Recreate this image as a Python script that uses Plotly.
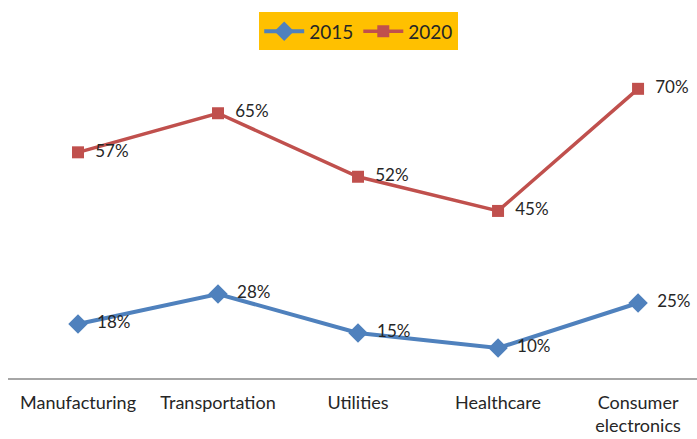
import plotly.graph_objects as go

categories = ["Manufacturing", "Transportation", "Utilities", "Healthcare", "Consumer<br>electronics"]
values_2015 = [18, 28, 15, 10, 25]
values_2020 = [57, 65, 52, 45, 70]

blue = "#4F81BD"
red = "#C0504D"
FONT = "Lato"

fig = go.Figure()
fig.add_trace(go.Scatter(
    x=categories, y=values_2015, name="2015", mode="lines+markers+text",
    line=dict(color=blue, width=4),
    marker=dict(symbol="diamond", size=15, color=blue),
    text=[f"  {v}%" for v in values_2015], textposition="middle right",
    textfont=dict(family=FONT, size=17, color="#262626"),
))
fig.add_trace(go.Scatter(
    x=categories, y=values_2020, name="2020", mode="lines+markers+text",
    line=dict(color=red, width=3.5),
    marker=dict(symbol="square", size=12, color=red),
    text=[f"  {v}%" for v in values_2020], textposition="middle right",
    textfont=dict(family=FONT, size=17, color="#262626"),
    yaxis="y2",
))

fig.update_layout(
    width=697, height=439,
    margin=dict(l=8, r=0, t=60, b=61),
    paper_bgcolor="white", plot_bgcolor="white",
    font=dict(family=FONT, size=18, color="#262626"),
    xaxis=dict(
        range=[-0.5, 4.421], showgrid=False, zeroline=False,
        showline=True, linecolor="#A6A6A6", linewidth=2,
        ticks="", ticklabelstandoff=7, automargin=False,
        tickfont=dict(family=FONT, size=18, color="#262626"),
    ),
    yaxis=dict(range=[0, 106], visible=False, showgrid=False),
    yaxis2=dict(range=[10.8, 75.9], visible=False, showgrid=False,
                overlaying="y", side="right"),
    showlegend=True,
    legend=dict(
        orientation="h", x=0.509, xanchor="center", y=1.15, yanchor="top",
        bgcolor="#FFC000", font=dict(family=FONT, size=19, color="#262626"),
        borderwidth=0, itemwidth=40,
    ),
)

fig.write_html("out.html")
